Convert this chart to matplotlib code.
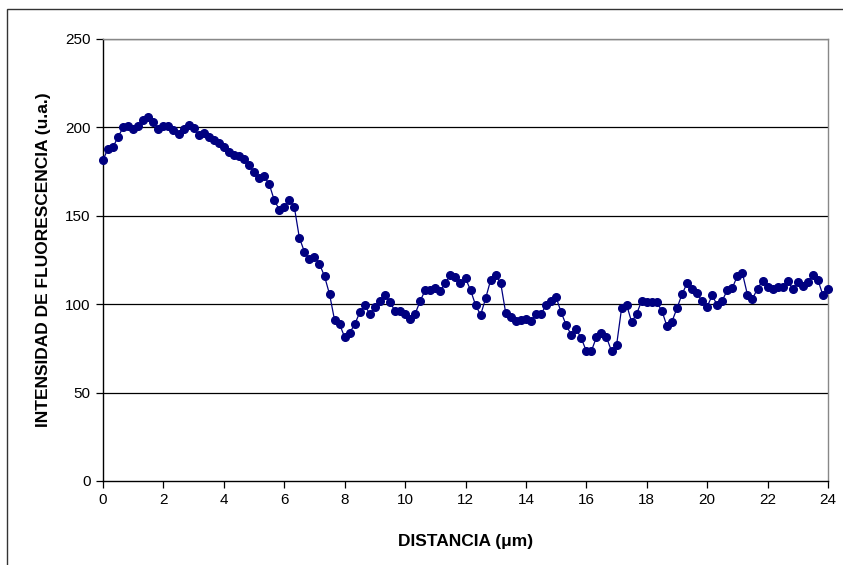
import numpy as np
import matplotlib
matplotlib.use("Agg")
import matplotlib.pyplot as plt
from matplotlib.patches import Rectangle

# Fluorescence intensity profile sampled along the distance axis
step_um = 1.0 / 6.0
intensity = [
    181.6, 188.0, 189.0, 194.6, 200.0, 201.0, 199.0, 200.6, 204.0, 206.0,
    203.0, 199.0, 200.6, 200.6, 198.7, 196.0, 199.0, 201.5, 199.7, 195.5,
    196.7, 194.7, 192.9, 191.4, 189.0, 186.0, 184.6, 184.0, 182.0, 178.5,
    174.6, 171.4, 172.3, 168.0, 159.0, 153.5, 155.0, 159.0,
    155.0, 137.6, 129.7, 125.4, 126.9, 122.7, 115.8, 105.6, 90.9, 88.6,
    81.3, 83.9, 88.6, 95.4, 99.5, 94.3, 98.4, 101.8, 105.2, 101.0,
    96.3, 96.2, 94.6, 91.4, 94.6, 101.8, 108.0, 108.0, 109.0, 107.6,
    112.0, 116.5, 115.6, 111.8, 114.6, 108.0,
    99.5, 93.9, 103.3, 113.7, 116.5, 111.8, 94.8, 92.6, 90.7, 91.0,
    91.4, 90.5, 94.3, 94.3, 99.5, 102.0, 103.9, 95.4, 88.2, 82.6,
    85.8, 80.7, 73.5, 73.5, 81.3, 83.5, 81.3, 73.5, 76.7, 97.7,
    99.7, 89.9, 94.6, 102.0, 101.0, 101.0, 101.0,
    96.3, 87.7, 90.1, 97.7, 105.6, 111.8, 108.4, 106.2, 101.6, 98.6,
    105.0, 99.4, 102.0, 108.0, 109.2, 116.0, 117.5, 105.4, 103.1, 108.8,
    113.3, 109.6, 108.8, 109.6, 109.6, 113.0, 108.8, 112.7, 110.3, 112.7,
    116.3, 113.7, 105.0, 108.8,
]
distance = np.arange(len(intensity)) * step_um

x_ticks = list(range(0, 25, 2))
y_ticks = [0, 50, 100, 150, 200, 250]

plt.rcParams['font.family'] = ['Liberation Sans', 'DejaVu Sans']

W, H = 843, 565
fig = plt.figure(figsize=(W / 100, H / 100), dpi=100)
fig.patch.set_facecolor('white')

# Outer chart frame
fig.patches.append(Rectangle((7 / W, -0.1), 1.2, 1 - 9 / H + 0.1,
                             transform=fig.transFigure, fill=False,
                             edgecolor='#333333', linewidth=1.0))

ax = fig.add_axes([103 / W, 1 - 481 / H, (828 - 103) / W, (481 - 39) / H])
ax.set_xlim(0, 24)
ax.set_ylim(0, 250)

for yv in y_ticks[1:]:
    ax.axhline(yv, color='black', linewidth=0.9, zorder=1)

ax.plot(distance, intensity, color='#000080', linewidth=0.9,
        marker='o', markersize=5.5, markerfacecolor='#000080',
        markeredgecolor='#000080', zorder=3, clip_on=False)

ax.set_xticks(x_ticks)
ax.set_yticks(y_ticks)
ax.tick_params(axis='both', direction='out', length=5, width=0.9,
               labelsize=11, color='black', pad=4)

for side in ['left', 'bottom']:
    ax.spines[side].set_color('black')
    ax.spines[side].set_linewidth(1.0)
for side in ['top', 'right']:
    ax.spines[side].set_color('#888888')
    ax.spines[side].set_linewidth(1.0)

ax.set_xlabel('DISTANCIA (\u03bcm)', fontsize=12.5, fontweight='bold', labelpad=19)
ax.set_ylabel('INTENSIDAD DE FLUORESCENCIA (u.a.)', fontsize=12.5,
              fontweight='bold', labelpad=10)

fig.savefig('out.png', dpi=100, facecolor='white')
